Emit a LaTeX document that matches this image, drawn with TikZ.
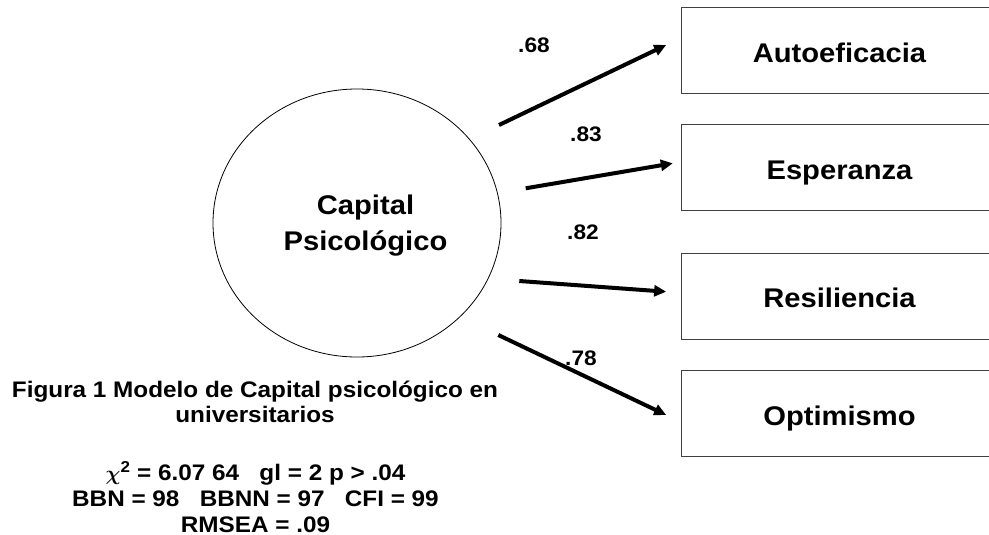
\documentclass[tikz,border=0pt]{standalone}
\usepackage{fontspec}
\setmainfont{Liberation Sans}[FakeStretch=1.08]
\usetikzlibrary{shapes, positioning, arrows.meta}

\begin{document}
\begin{tikzpicture}[
        x=1pt, y=-1pt,
        latent/.style={draw, ellipse, line width=0.8pt, minimum width=288pt, minimum height=268pt, inner sep=0pt},
        indicator/.style={draw=black!75, line width=1pt, rectangle, minimum width=317pt, minimum height=86pt,
          text height=24pt, text depth=1pt, font=\fontsize{27}{32}\selectfont\bfseries},
        loading/.style={line width=4pt, -{Triangle[length=12pt, width=11pt]}},
        coef/.style={anchor=base, font=\fontsize{21}{25}\selectfont\bfseries},
        note/.style={align=center, font=\fontsize{22.5}{25}\selectfont\bfseries}
      ]
      \useasboundingbox (0,0) rectangle (989,535);
      \clip (0,0) rectangle (989,535);

      % factor and its four indicators
      \node[latent] (cap) at (357,223) {};
      \node[align=center, font=\fontsize{27}{36}\selectfont\bfseries] (captext) at (365.5,226) {Capital\\Psicológico};
      \node[indicator] (auto) at (839.5,51) {Autoeficacia};
      \node[indicator] (esp) at (839.5,167.5) {Esperanza};
      \node[indicator] (res) at (839.5,296) {Resiliencia};
      \node[indicator] (opt) at (839.5,413.5) {Optimismo};

      % loadings
      \coordinate (t1) at (499,125);
      \coordinate (t2) at (525.7,188.3);
      \coordinate (t3) at (519.3,281);
      \coordinate (t4) at (498.3,335);
      \draw[loading] (t1) -- ([xshift=-14.3pt, yshift=6pt]auto.west);
      \draw[loading] (t2) -- ([xshift=-7.7pt, yshift=4.2pt]esp.west);
      \draw[loading] (t3) -- ([xshift=-14.3pt, yshift=4.3pt]res.west);
      \draw[loading] (t4) -- ([xshift=-14.3pt, yshift=-1.5pt]opt.west);
      \node[coef] (l1) at (534,52.3) {.68};
      \node[coef] (l2) at (586,141) {.83};
      \node[coef] (l3) at (583,239) {.82};
      \node[coef] (l4) at (581,365) {.78};

      % caption and fit indices
      \node[note] (fig) at (255,402) {Figura 1 Modelo de Capital psicológico en\\universitarios};
      \node[note, font=\fontsize{22.5}{26}\selectfont\bfseries] (fit) at (255.5,497)
        {{\boldmath$\chi$}\textsuperscript{2} = 6.07 64~~~gl = 2 p > .04\\BBN = 98~~~BBNN = 97~~~CFI = 99\\RMSEA = .09};
\end{tikzpicture}
\end{document}
